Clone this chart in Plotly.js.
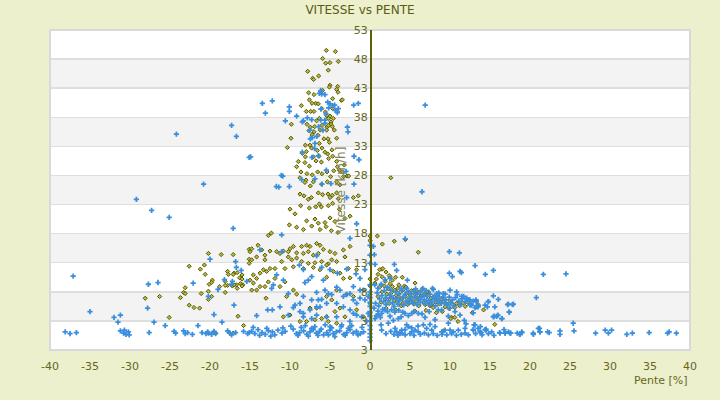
<!DOCTYPE html>
<html>
<head>
<meta charset="utf-8">
<script src="https://cdn.plot.ly/plotly-3.0.1.min.js"></script>
<style>html,body{margin:0;padding:0;background:#ecf0cc;}#chart{width:720px;height:400px;}</style>
</head>
<body>
<div id="chart"></div>
<script>
// ---------- DATA (Pente [%], Vitesse [km/h]) ----------
const xTicks = [-40,-35,-30,-25,-20,-15,-10,-5,0,5,10,15,20,25,30,35,40];
const yTickVals = [-2,3,8,13,18,23,28,33,38,43,48,53];
const yTickText = ["3","3","8","13","18","23","28","33","38","43","48","53"];

// blue series
const blueLeft = [[-44.9,1.4],[-40.6,1.2],[-40.4,0.9],[-40.2,0.7],
[-17.3,36.6],[-16.7,34.7],[-24.2,35.1],[-15.1,31.1],[-20.8,26.5],[-29.2,23.9],[-27.3,22.0],[-25.1,20.8],[-17.1,18.9],[-20.0,13.6],[-37.1,10.7],[-27.7,9.3],[-26.5,9.6],[-22.1,9.5],[-16.8,13.2],[-16.7,12.2],[-16.1,11.7],[-17.2,9.8],[-15.4,9.8],[-17.3,9.3],[-19.0,8.4],[-18.2,10.1],[-17.0,5.7],[-20.2,7.2],[-35.0,4.6],[-32.0,3.6],[-31.2,4.0],[-31.5,2.8],[-27.8,5.2],[-27.0,2.8],[-25.6,2.2],[-21.5,2.2],[-19.5,4.1],[-18.5,2.8],
[-38.1,1.1],[-37.5,0.8],[-36.7,1.0],[-31.2,1.3],[-30.8,0.9],[-30.7,1.4],[-30.5,0.7],[-30.2,1.1],[-30.1,0.6],[-27.6,1.0],[-24.5,1.2],[-24.3,0.9],[-23.3,1.3],[-23.1,0.8],[-22.8,1.0],[-22.2,0.7],[-21.0,1.0],[-20.5,0.8],[-20.3,1.1],[-20.2,0.9],[-19.8,0.7],[-19.5,1.2],[-19.3,0.8],[-17.8,1.3],[-17.5,0.9],[-17.3,0.6],[-16.8,1.0],[-15.8,1.2],[-15.3,0.8],[-15.1,1.0]];

const blueUpper = [[-13.46,40.4],[-12.21,40.8],[-13.08,38.7],[-10.08,39.8],[-10.08,39.0],[-10.58,37.4],[-9.17,38.2],[-8.46,37.2],[-8.33,37.4],[-7.29,37.6],[-6.17,42.6],[-6.04,42.0],[-5.63,41.9],[-6.33,42.1],[-5.29,40.6],[-5.0,40.3],[-4.42,40.1],[-3.96,39.5],[-4.33,39.2],[-6.13,39.4],[-5.5,38.6],[-6.17,37.5],[-6.42,36.4],[-5.88,35.8],[-7.21,34.5],[-7.46,34.3],[-6.88,33.5],[-6.92,32.6],[-7.25,31.1],[-6.46,31.4],[-5.46,28.9],[-2.04,40.1],[-1.46,40.4],[-2.83,36.3],[-2.75,35.5],[-2.0,31.3],[-1.38,30.7],[-3.0,28.7],[-8.46,32.0],[-14.92,31.2],[-11.08,28.0],[-11.71,26.1],[-10.08,26.1],[-8.54,27.3],[-6.88,27.4],[-4.88,26.6],[-6.0,26.5],[-2.0,26.5],[-5.63,37.0],[-7.83,37.9],[-7.5,35.8],[-6.67,34.7],[-4.08,38.8],[-4.67,40.0],[-5.17,39.6],[-5.63,37.5],[-10.9,27.9],[-11.4,26.0],[6.9,40.1],[6.5,25.2]];

const blueMid = [[-2.92,24.2],[-1.67,19.7],[-2.5,17.2],[-11.04,17.8],[-13.75,15.2],[-11.04,14.9],[-6.67,14.2],[-8.83,12.6],[-8.33,11.8],[-7.71,10.0],[-7.29,10.6],[-8.13,9.6],[-6.04,12.2],[-5.83,10.0],[-5.0,11.8],[-4.08,11.2],[-2.92,11.9],[-1.75,11.1],[-1.25,10.3],[-0.63,11.8],[-10.83,10.0],[-11.67,10.9],[-12.29,8.6],[-12.08,9.2],[-10.21,7.7],[-14.17,3.9],[-12.79,4.9],[-12.21,4.9],[-10.21,4.0],[-9.38,5.7],[-9.58,5.3],[-8.75,6.0],[-8.33,7.2],[-7.29,6.6],[-6.67,7.9],[-6.46,6.6],[-6.04,6.7],[-5.63,8.3],[-5.21,7.7],[-4.79,7.5],[-4.17,8.8],[-3.75,8.3],[-3.33,7.2],[-2.92,7.5],[-2.5,7.7],[-2.08,6.6],[-1.67,6.0],[-1.25,6.9],[-0.83,8.3],[-0.63,6.6],[-0.21,7.2],[-4.17,6.0],[-3.33,5.4],[-2.5,4.9],[-2.08,4.3],[-1.67,4.0],[-8.33,4.3],[-8.33,3.7],[-7.5,4.9],[-7.29,3.4],[-6.67,4.0],[-6.25,5.4],[-5.42,3.7],[-4.17,3.7],[-5.0,2.0],[-3.54,2.3],[-2.5,2.9],[-1.04,3.7],[-0.42,2.9],[-0.21,4.3],[-5.42,6.0],[-6.67,5.4],[-8.75,4.6],[-2.08,8.9],[-1.25,8.3],[-11.25,5.4]];

const blueBottom = [[-14.8,1.2],[-14.4,0.8],[-14.0,1.5],[-13.5,1.0],[-13.1,0.7],[-12.7,1.3],[-12.2,1.1],[-11.9,0.6],[-11.5,1.4],[-11.0,0.9],[-10.6,1.2],[-9.6,1.6],[-9.2,0.8],[-8.8,1.0],[-8.3,1.3],[-7.9,0.7],[-7.5,1.1],[-7.1,1.5],[-6.7,0.9],[-6.3,1.2],[-5.8,0.6],[-5.4,1.0],[-5.0,1.4],[-4.6,0.8],[-4.2,1.1],[-3.8,1.3],[-3.3,0.7],[-2.9,1.0],[-2.5,1.5],[-2.1,0.9],[-1.7,1.2],[-1.2,0.8],[-0.8,1.1],
[-14.6,1.9],[-13.8,0.5],[-12.9,1.7],[-12.4,0.4],[-10.9,1.8],[-9.9,2.1],[-9.0,0.5],[-8.6,1.9],[-8.1,2.2],[-7.7,0.4],[-7.3,1.7],[-6.9,2.0],[-6.5,0.5],[-6.1,1.6],[-5.6,2.3],[-5.2,0.6],[-4.8,1.8],[-4.4,0.3],[-3.6,2.0],[-3.1,0.5],[-2.7,1.7],[-2.3,2.2],[-1.5,0.6],[-1.0,1.9]];

const blueAxis = [[0,8.0],[0,7.0],[0,6.2],[0,5.5],[0,4.5],[0,3.8],[0,3.0],[0,2.2],[0,1.5],[0,0.8],[0,0.2],[0,-0.4],[0,16.0],[0,14.3],[0,12.9],[0,9.2]];

const blueRight = [[0.42,15.8],[0.54,14.4],[0.63,12.7],[3.04,12.7],[3.33,11.7],[9.92,14.9],[11.17,14.7],[13.13,12.5],[15.42,11.7],[14.42,11.0],[9.92,11.2],[10.29,10.6],[11.25,11.5],[11.42,11.3],[21.67,11.0],[20.79,7.0],[4.67,10.0],[2.5,10.3],[1.88,10.1],[7.92,8.4],[24.5,11.1],[4.4,17.1],
[8.33,7.7],[9.17,7.7],[10.0,8.3],[10.83,8.0],[11.46,7.2],[12.08,6.9],[12.5,6.6],[13.25,6.5],[15.42,7.3],[16.04,6.7],[14.79,6.3],[14.38,5.7],[13.54,5.6],[13.13,5.3],[12.71,5.7],[17.29,5.9],[17.92,5.9],[17.42,4.5],[16.46,3.4],[15.42,3.7],[15.83,3.8],[11.79,3.1],[11.25,4.0],[9.79,3.8],[10.63,4.6],[10.0,5.2],[8.96,4.9],[8.54,4.9],[8.13,3.2],[6.88,3.6],[6.04,4.3],[5.21,4.3],[4.38,4.3],[3.54,3.4],[2.92,3.1],[1.88,4.9],[1.46,4.3],[1.04,4.0],[0.63,3.4],[1.38,2.3],[2.29,2.6],[3.13,1.7],[3.33,1.1],[3.96,1.4],[4.79,2.0],[5.63,1.4],[6.04,1.1],[6.67,2.3],[7.08,1.7],[7.71,1.4],[8.13,2.0],[8.96,1.1],[9.38,1.4],[10.0,1.4],[10.42,1.1],[11.04,1.4],[11.88,0.9],[12.92,1.4],[13.13,2.3],[13.75,1.1],[14.38,1.5],[15.21,1.1],[16.25,0.9],[16.88,0.9],[17.5,0.9],[18.75,0.7],[18.96,1.1],[20.42,0.7],[21.04,1.7],[21.25,1.1],[11.88,1.7],[5.21,1.1],[4.38,1.5],[3.75,0.9],[4.58,2.3],[1.46,1.4],
[0.5,5.2],[1.0,4.7],[1.6,5.0],[2.2,4.6],[2.7,4.9],[3.1,4.5],[3.6,4.8],[4.1,4.5],[0.8,3.9],[1.3,3.6],[2.5,3.8],[3.9,3.7],[4.8,3.9],[5.5,4.6],[6.5,4.2],[7.4,4.6],
[2.0,0.8],[2.6,1.2],[3.0,0.7],[3.5,0.5],[4.0,0.9],[4.4,0.6],[5.0,0.8],[5.5,0.5],[6.3,0.7],[6.8,0.9],[7.3,0.6],[7.9,0.8],[8.4,0.5],[9.0,0.7],[9.6,0.6],[10.2,0.8],[10.8,0.5],[11.4,0.7],[12.3,0.6],[13.2,0.8],[14.0,0.6],[14.8,0.8],[15.5,0.5],[6.0,2.1],[7.5,2.4],[5.2,1.8],[9.8,2.6],[12.0,2.5],[13.8,2.0],[14.5,1.6],
[12.5,5.7],[13.3,5.4],[13.5,5.4],[14.67,5.4],[15.6,5.4],[17.2,5.8],[17.8,5.8],[17.4,4.5],[15.5,3.8],[16.0,4.0],[16.5,3.4],[12.9,4.4],[14.8,6.3],[13.25,6.6],
[13.0,2.3],[13.5,1.7],[12.9,1.5],[13.9,1.0],[14.5,1.4],[16.2,1.0],[16.75,1.5],[16.9,0.9],[17.3,1.1],[17.6,0.9],[18.4,0.9],[19.0,1.0],[18.7,0.7],[20.4,0.9],[21.2,1.7],[21.25,1.1],[22.2,1.1],[22.4,1.0],[23.75,1.3],[23.75,0.7],[25.4,2.6],[25.5,1.3],[28.2,0.9],[29.4,1.4],[29.8,0.9],[30.2,1.4],[32.1,0.7],[32.8,0.9],[34.9,1.0],[37.2,0.9],[37.4,1.1],[38.3,0.9]];

const blueCluster = [[0.6,9.2],[1.0,8.6],[1.4,9.3],[1.8,8.2],[2.2,8.8],[2.6,8.3],[0.9,7.8],[1.5,7.4],[2.0,7.0],[2.5,7.4],[2.9,7.0],[1.2,6.8],[1.7,6.3],[2.3,6.5],[2.8,6.1],[0.7,6.0],[1.1,5.6],[2.0,5.8],[3.0,5.5],
[3.2,8.0],[3.6,7.6],[4.0,8.2],[4.4,7.6],[4.8,8.0],[3.3,6.8],[3.7,6.5],[4.1,7.0],[4.5,6.4],[4.9,6.9],[3.5,5.9],[4.2,5.7],[4.8,6.0],[3.9,8.6],[4.6,8.6],
[5.1,7.7],[5.5,8.1],[5.9,7.6],[6.3,8.0],[6.7,7.5],[5.2,6.6],[5.6,7.1],[6.0,6.6],[6.4,7.0],[6.8,6.6],[5.4,6.1],[5.9,5.8],[6.3,6.2],[6.9,6.0],[5.7,8.5],[6.6,8.6],
[7.1,7.2],[7.5,7.6],[7.9,7.0],[8.3,7.3],[8.7,6.9],[7.3,6.5],[7.7,6.2],[8.1,6.6],[8.5,6.3],[8.9,6.0],[7.5,5.8],[8.2,5.6],[7.0,8.2],[8.6,7.8],[7.8,8.6],
[9.1,7.0],[9.5,6.6],[9.9,7.1],[10.3,6.6],[10.7,7.0],[9.3,6.0],[9.7,5.7],[10.1,6.1],[10.5,5.6],[11.1,6.4],[11.5,6.8],[11.9,6.3],[12.3,6.6],[12.6,5.9],[11.3,5.8],[10.9,7.5],[9.4,7.6],[12.9,6.4],[13.3,6.3],[11.7,7.2]];

// olive series
const oliveLeft = [[-20.2,14.6],[-18.6,14.4],[-17.1,14.4],[-22.6,12.4],[-20.7,12.6],[-21.2,11.9],[-20.6,11.0],[-19.7,10.0],[-19.8,9.6],[-20.1,9.3],[-23.1,8.7],[-23.3,7.9],[-23.1,7.7],[-23.7,7.0],[-21.1,7.7],[-20.2,8.1],[-19.8,7.2],[-20.2,6.7],[-18.8,8.9],[-18.1,9.8],[-17.8,9.1],[-18.1,9.1],[-17.8,11.5],[-17.7,11.0],[-17.0,11.2],[-17.1,11.0],[-16.6,11.3],[-16.3,10.4],[-16.0,10.9],[-16.0,10.2],[-16.2,9.4],[-15.9,9.2],[-16.0,9.0],[-17.2,9.0],[-16.7,9.2],[-17.0,9.2],[-16.6,8.6],[-18.1,7.9],[-28.1,6.9],[-26.3,7.2],[-22.6,5.7],[-22.0,5.3],[-21.3,5.2],[-25.1,3.6],[-16.5,3.8],[-15.1,13.6],[-15.1,12.9],[-15.8,2.2],[-19.3,0.9],[-19.5,1.1],[-17.6,1.0],[-17.1,0.9],[-15.1,15.3]];

const oliveUpper = [[-5.46,49.5],[-4.33,49.3],[-5.92,48.1],[-3.96,47.6],[-5.54,47.3],[-5.0,47.4],[-5.21,46.1],[-7.79,45.9],[-6.42,45.1],[-7.17,44.7],[-7.04,44.5],[-5.0,43.5],[-5.08,43.2],[-4.04,43.3],[-4.17,42.8],[-4.0,42.3],[-7.67,42.2],[-6.17,42.4],[-5.92,42.6],[-7.0,41.9],[-4.67,41.2],[-7.58,41.0],[-3.58,40.9],[-3.46,41.0],[-6.79,40.4],[-6.46,40.3],[-7.25,40.4],[-6.04,39.5],[-4.67,39.5],[-7.96,39.0],[-7.42,39.0],[-7.0,39.0],[-5.58,38.9],[-4.08,39.0],[-5.0,38.2],[-5.42,38.3],[-8.58,40.0],[-6.33,37.8],[-5.17,37.8],[-4.58,37.8],[-6.67,37.4],[-7.88,36.8],[-4.88,37.2],[-4.88,36.8],[-7.46,36.3],[-6.92,36.4],[-6.0,36.6],[-5.38,36.3],[-5.21,36.6],[-4.71,36.4],[-9.83,36.8],[-6.21,35.8],[-5.42,35.8],[-7.0,35.5],[-7.63,35.7],[-4.46,35.8],[-7.25,35.0],[-6.5,34.9],[-5.75,34.3],[-5.25,34.3],[-4.17,34.4],[-6.33,33.5],[-7.5,33.2],[-5.08,33.7],[-8.08,33.2],[-10.33,32.8],[-9.88,34.4],[-4.75,32.4],[-6.0,32.7],[-7.29,32.7],[-7.96,32.1],[-6.58,32.3],[-7.08,31.2],[-6.38,31.3],[-5.29,31.7],[-5.63,32.0],[-8.08,31.2],[-8.46,31.8],[-8.96,30.4],[-9.17,29.5],[-8.13,30.2],[-7.58,29.6],[-6.75,30.5],[-6.08,30.3],[-5.17,30.9],[-4.67,31.3],[-8.63,28.6],[-7.88,28.3],[-7.21,28.1],[-6.54,28.6],[-6.0,28.3],[-5.38,28.6],[-4.54,28.8],[-4.08,29.5],[-3.42,28.6],[-2.88,27.9],[-2.67,27.9],[-3.29,27.8],[-4.17,26.9],[-4.92,27.8],[-8.75,27.6],[-8.0,27.2],[-7.08,26.9],[-6.04,26.5],[-5.33,26.9],[-7.46,26.2],[-3.75,26.4],[-3.21,29.8],[-8.13,26.8],[-4.17,30.4],[-3.83,28.9],[2.6,27.6]];

const oliveMid = [[-8.75,24.8],[-8.25,24.5],[-7.33,24.2],[-6.46,25.0],[-5.92,24.7],[-5.25,24.8],[-4.71,24.6],[-5.0,24.2],[-7.71,23.9],[-4.17,25.0],[-3.96,24.0],[-2.08,24.2],[-1.46,24.5],[-8.67,22.8],[-7.58,22.4],[-6.79,22.6],[-6.33,23.1],[-6.08,22.6],[-5.21,22.8],[-4.67,23.2],[-3.83,22.2],[-10.0,22.2],[-9.38,21.4],[-7.92,20.2],[-6.88,20.5],[-6.46,19.8],[-5.63,19.9],[-5.0,20.7],[-4.38,20.1],[-3.13,20.6],[-2.5,21.0],[-10.08,19.5],[-9.17,19.1],[-8.33,18.7],[-7.29,19.3],[-6.25,18.7],[-5.5,19.2],[-4.83,18.5],[-4.0,18.2],[-12.33,18.1],[-12.71,17.7],[-14.0,16.0],[-13.54,15.2],[-14.79,15.4],[-15.0,14.9],[-13.13,14.3],[-12.5,15.0],[-11.67,14.9],[-11.25,14.6],[-10.83,15.0],[-10.21,14.9],[-10.0,15.4],[-9.58,15.8],[-8.54,15.8],[-7.92,16.0],[-7.5,15.8],[-6.67,16.3],[-6.25,16.0],[-5.83,15.3],[-5.0,14.9],[-4.38,14.6],[-3.33,15.2],[-2.5,15.8],[-9.17,14.7],[-8.33,14.6],[-7.71,14.9],[-7.08,14.3],[-6.46,14.6],[-10.21,14.0],[-11.04,13.2],[-9.79,13.5],[-9.17,13.8],[-8.54,13.2],[-7.71,12.9],[-6.88,13.0],[-6.04,13.2],[-5.21,12.8],[-4.79,13.5],[-4.17,13.2],[-3.13,14.0],[-14.79,13.5],[-14.17,14.0],[-13.13,13.5],[-12.5,12.0],[-11.88,12.0],[-13.33,11.8],[-12.92,11.5],[-13.75,11.2],[-14.58,10.9],[-14.17,10.3],[-15.0,10.0],[-10.63,12.0],[-9.58,12.3],[-8.33,12.0],[-7.08,12.2],[-6.25,11.8],[-5.42,12.6],[-4.58,11.5],[-3.75,11.2],[-2.71,12.0],[-1.67,11.8],[-2.5,10.4],[-3.33,10.3],[-5.42,10.5],[-11.88,10.3],[-12.71,9.7],[-13.13,8.9],[-13.75,8.9],[-14.17,8.3],[-14.58,9.5],[-10.63,9.7],[-9.58,8.3],[-9.17,7.6],[-10.42,7.2],[-7.5,5.2],[-6.67,5.2],[-5.42,7.2],[-4.79,6.6],[-4.17,8.3],[-2.92,7.6],[-2.08,7.2],[-3.75,5.2],[-4.38,4.6],[-5.42,3.7],[-6.04,3.4],[-6.88,3.2],[-8.75,2.9],[-10.0,4.0],[-10.83,3.7],[-11.25,8.9],[-13.0,6.9],[-14.79,8.3],[-3.13,3.7],[-1.67,4.9],[-0.83,3.7],[-4.17,2.6],[-2.5,2.0],[-7.92,2.9],[-5.21,2.9]];

const oliveAxis = [[0,17.6],[0,16.8],[0,10.2],[0,9.0],[0,7.5],[0,6.0],[0,4.2]];

const oliveRight = [[0.92,17.6],[1.54,16.2],[3.04,16.7],[4.42,17.0],[6.04,14.8],[4.04,10.5],[5.63,9.5],[7.29,8.0],[10.2,3.6],[10.1,3.4],[9.17,1.3],[9.04,4.6],[15.6,2.4],[2.5,10.6],[1.46,11.9],
[1.2,11.8],[1.6,12.0],[2.0,11.4],[1.0,11.0],[1.5,10.6],[2.4,10.8],[0.8,10.2],[2.8,10.0],[3.2,10.5],[1.9,9.8],[0.6,9.5],[2.5,9.4],[3.6,9.2],
[1.2,8.8],[1.8,9.0],[2.3,8.5],[2.8,8.9],[1.5,8.0],[2.1,7.6],[2.7,7.9],[3.1,8.3],[1.0,7.2],[1.9,6.8],[2.6,7.0],[3.0,6.5],[1.4,6.2],[2.4,6.0],[3.3,7.4],
[3.5,8.6],[3.8,8.0],[4.2,8.4],[4.6,7.8],[3.6,7.2],[4.0,6.8],[4.4,7.2],[4.8,6.6],[3.4,6.2],[4.1,6.0],[4.7,5.8],[5.0,7.4],[4.3,9.0],[3.9,5.6],[4.5,8.8],
[5.2,8.2],[5.6,7.6],[6.0,8.0],[6.4,7.3],[5.3,6.9],[5.8,6.4],[6.2,6.8],[6.7,6.2],[5.5,5.9],[6.1,5.6],[6.8,7.6],[5.1,6.2],[6.5,8.4],[5.9,7.0],[6.9,5.8],
[7.2,7.4],[7.6,6.9],[8.0,7.2],[8.4,6.6],[7.3,6.3],[7.8,6.0],[8.2,6.2],[8.7,5.9],[7.5,5.6],[8.9,6.8],[7.1,8.0],[8.5,7.5],[7.9,5.3],
[9.2,6.3],[9.6,5.9],[10.0,6.5],[10.4,5.8],[9.4,5.4],[10.8,6.0],[11.2,5.6],[11.6,6.1],[9.9,5.1],[10.6,5.3],[11.9,5.5],[12.2,6.2],[9.1,7.0],
[13.5,5.8],[14.2,4.9],[8.3,4.4],[10.6,3.6],[7.0,4.8],[5.6,4.7],[3.2,4.9],[2.0,5.2],[12.8,4.4],[11.0,2.9]];

// ---------- BUILD ----------
const bluePts = [].concat(blueLeft, blueUpper, blueMid, blueBottom, blueAxis, blueRight, blueCluster);
const olivePts = [].concat(oliveLeft, oliveUpper, oliveMid, oliveAxis, oliveRight);

const olive = '#66661c';
const shapes = [];
for (let i = 1; i < yTickVals.length - 1; i += 2) {
  shapes.push({type:'rect', layer:'below', xref:'paper', yref:'y', x0:0, x1:1,
    y0:yTickVals[i], y1:yTickVals[i+1], fillcolor:'#f3f3f3', line:{width:0}});
}
shapes.push({type:'rect', layer:'below', xref:'paper', yref:'paper', x0:0, x1:1, y0:0, y1:1,
  line:{color:'#d9d9d9', width:2}, fillcolor:'rgba(0,0,0,0)'});

const traces = [
  {type:'scatter', mode:'markers', name:'olive', cliponaxis:false,
   x: olivePts.map(p=>p[0]), y: olivePts.map(p=>p[1]),
   marker:{symbol:'diamond', size:3.2, color:'#b8b84a', line:{color:'#585800', width:1}}},
  {type:'scatter', mode:'markers', name:'blue', cliponaxis:false,
   x: bluePts.map(p=>p[0]), y: bluePts.map(p=>p[1]),
   marker:{symbol:'cross', size:4.4, color:'#3a8ede', line:{width:0}}}
];

const layout = {
  width:720, height:400,
  margin:{l:50, r:30, t:30, b:50},
  paper_bgcolor:'#ecf0cc', plot_bgcolor:'#ffffff',
  showlegend:false,
  font:{family:'DejaVu Sans, sans-serif', size:11, color:olive},
  title:{text:'VITESSE vs PENTE', x:0.5, xref:'container', y:0.975, yref:'container', yanchor:'middle',
    font:{family:'DejaVu Sans, sans-serif', size:12, color:'#5b5b14'}},
  xaxis:{range:[-40,40], tickvals:xTicks, ticktext:xTicks.map(String), showgrid:false, zeroline:false,
    showline:false, ticks:'', ticklabelstandoff:8, tickfont:{size:11, color:olive}, fixedrange:true},
  yaxis:{range:[-2,53], tickvals:yTickVals, ticktext:yTickText, anchor:'free', position:0.5,
    showline:true, linecolor:'#5f5f00', linewidth:1.5, zeroline:false, ticks:'',
    showgrid:true, gridcolor:'#dedede', gridwidth:1.5,
    tickfont:{size:11, color:olive},
    title:{text:'Vitesse [km/h]', standoff:4, font:{size:12, color:'#85855a'}}},
  shapes:shapes,
  annotations:[{text:'Pente [%]', xref:'paper', yref:'paper', x:1, y:-0.094, xanchor:'right', yanchor:'middle',
    showarrow:false, font:{size:11, color:olive}}]
};

Plotly.newPlot('chart', traces, layout, {displayModeBar:false, staticPlot:true});
</script>
</body>
</html>
